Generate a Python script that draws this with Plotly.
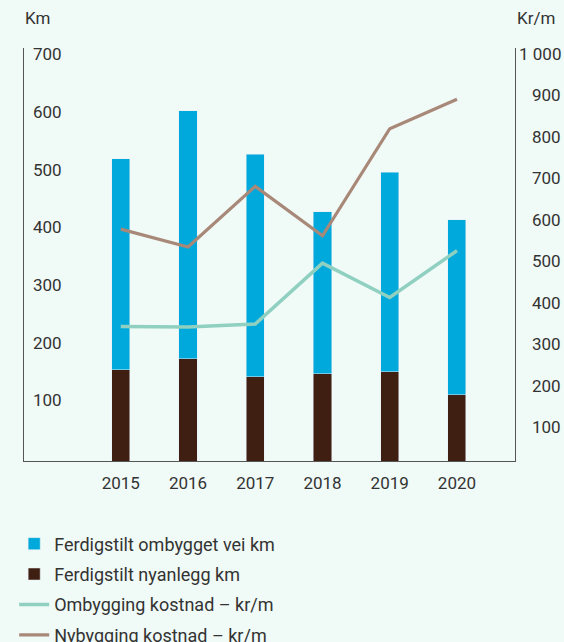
import plotly.graph_objects as go

years = [2015, 2016, 2017, 2018, 2019, 2020]
nyanlegg_km = [158, 177, 146, 151, 155, 115]
ombygget_km = [366, 430, 386, 281, 346, 303]
ombygging_kr_m = [350, 349, 356, 503, 420, 533]
nybygging_kr_m = [585, 542, 688, 569, 827, 898]

left_ticks = [100, 200, 300, 400, 500, 600, 700]
left_tick_text = ["100", "200", "300", "400", "500", "600", "700"]
right_ticks = [100, 200, 300, 400, 500, 600, 700, 800, 900, 1000]
right_tick_text = ["100", "200", "300", "400", "500", "600", "700", "800", "900", "1 000"]

names = ["Ferdigstilt ombygget vei km", "Ferdigstilt nyanlegg km",
         "Ombygging kostnad – kr/m", "Nybygging kostnad – kr/m"]

BLUE = "#00a9db"
DARK = "#3f1f12"
TEAL = "#8fd0c1"
TAUPE = "#a88878"
BG = "#f0faf6"
TXT = "#333333"
FONT = "Roboto"

fig = go.Figure()
fig.add_trace(go.Bar(x=years, y=nyanlegg_km, name=names[1], marker_color=DARK,
                     width=0.268, legendrank=2, legendgroup="b"))
fig.add_trace(go.Bar(x=years, y=ombygget_km, name=names[0], marker_color=BLUE,
                     width=0.268, legendrank=1, legendgroup="a"))
fig.add_trace(go.Scatter(x=years, y=ombygging_kr_m, name=names[2], mode="lines",
                         line=dict(color=TEAL, width=3.5), yaxis="y2",
                         legendrank=3, legendgroup="c"))
fig.add_trace(go.Scatter(x=years, y=nybygging_kr_m, name=names[3], mode="lines",
                         line=dict(color=TAUPE, width=3.2), yaxis="y2",
                         legendrank=4, legendgroup="d"))

annotations = [
    dict(text="Km", xref="paper", yref="paper", x=0, y=1, xanchor="left",
         yanchor="middle", yshift=30, xshift=-1, showarrow=False,
         font=dict(size=17, color=TXT, family=FONT)),
    dict(text="Kr/m", xref="paper", yref="paper", x=1, y=1, xanchor="left",
         yanchor="middle", yshift=30, showarrow=False,
         font=dict(size=17, color=TXT, family=FONT)),
]
for v, t in zip(left_ticks, left_tick_text):
    annotations.append(dict(text=t, xref="paper", yref="y", x=0, y=v,
                            xanchor="left", yanchor="middle", xshift=7, yshift=3,
                            showarrow=False,
                            font=dict(size=17, color=TXT, family=FONT)))
for v, t in zip(right_ticks, right_tick_text):
    annotations.append(dict(text=t, xref="paper", yref="y2", x=1, y=v,
                            xanchor="right", yanchor="middle", xshift=48, yshift=3,
                            showarrow=False,
                            font=dict(size=17, color=TXT, family=FONT)))

fig.update_layout(
    width=564, height=642,
    margin=dict(l=24, r=49, t=48, b=181, autoexpand=False),
    paper_bgcolor=BG, plot_bgcolor=BG,
    barmode="stack",
    font=dict(family=FONT, size=17, color=TXT),
    showlegend=True,
    legend=dict(x=-0.02, xanchor="left", y=-0.156, yanchor="top",
                bgcolor="rgba(0,0,0,0)", traceorder="grouped",
                tracegroupgap=4, font=dict(size=18, color=TXT, family=FONT)),
    xaxis=dict(range=[2013.561, 2020.863], tickvals=years,
               ticktext=[str(y) for y in years], showline=True,
               linecolor="#555555", linewidth=1, showgrid=False, zeroline=False,
               ticks="", ticklabelstandoff=7),
    yaxis=dict(range=[0, 716], showline=True, showticklabels=False,
               linecolor="#555555", linewidth=1, showgrid=False, zeroline=False,
               ticks=""),
    yaxis2=dict(range=[25.8, 1021.7], overlaying="y", side="right",
                showline=True, linecolor="#555555", linewidth=1,
                showgrid=False, zeroline=False, showticklabels=False, ticks=""),
    annotations=annotations,
)

fig.write_html(
    "out.html",
    config={"displayModeBar": False},
    post_script="document.body.style.margin='0';document.body.style.overflow='hidden';",
)
